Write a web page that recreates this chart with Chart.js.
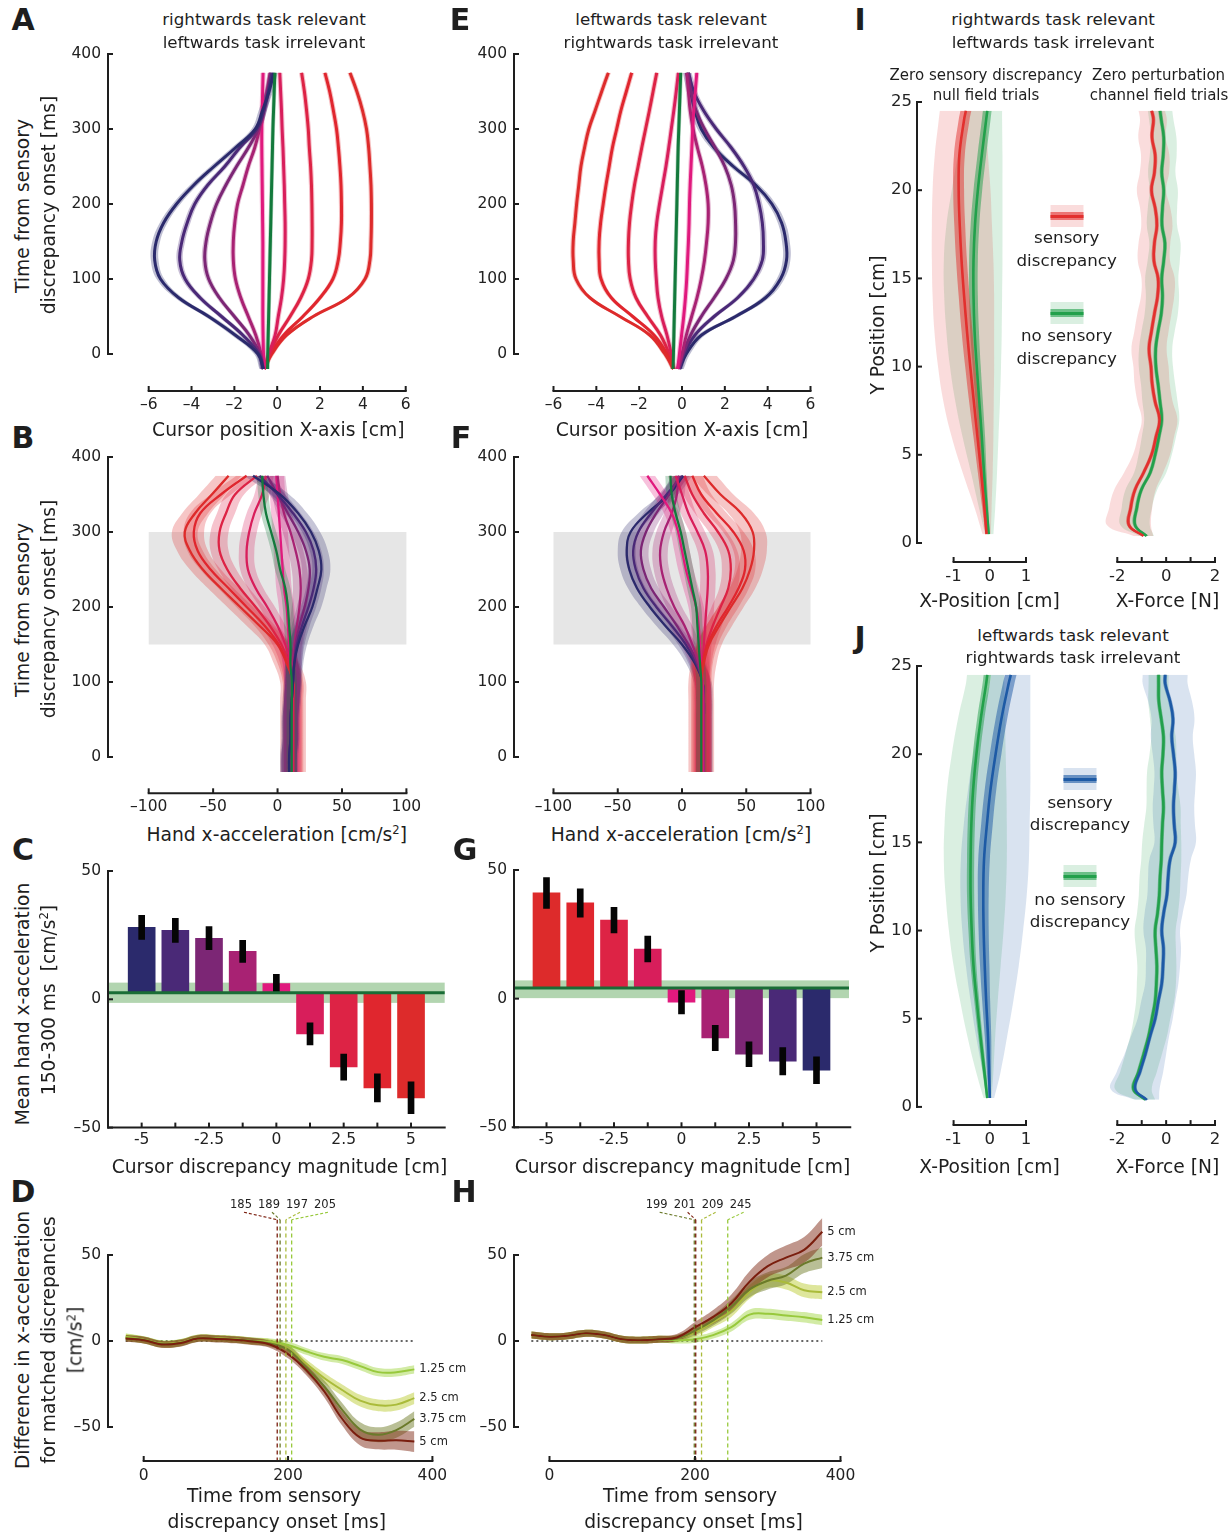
<!DOCTYPE html>
<html>
<head>
<meta charset="utf-8">
<title>Sensory discrepancy figure</title>
<script src="https://cdn.jsdelivr.net/npm/chart.js@4.4.1/dist/chart.umd.min.js"></script>
<style>
html,body{margin:0;padding:0;background:#fff;}
body{position:relative;width:1229px;height:1532px;overflow:hidden;font-family:"DejaVu Sans",sans-serif;color:#1e1e1e;}
canvas{position:absolute;}
.t{position:absolute;white-space:nowrap;line-height:1;transform:translate(-50%,-50%);}
.r{transform:translate(-50%,-50%) rotate(-90deg);}
.L{font-weight:bold;}
.sw{position:absolute;transform:translate(-50%,-50%);width:33px;}
.sup{font-size:0.62em;vertical-align:0.55em;}
</style>
</head>
<body>
<script>
// ---------------- DATA ----------------
const T = [-20,0,25,50,75,100,125,150,175,200,225,250,275,300,325,350,375];   // ms
const disc = [-5,-3.75,-2.5,-1.25,0,1.25,2.5,3.75,5];                          // cm
const discColors = ['#2b2a6c','#4a2977','#7c2675','#a82273','#e0197d','#d81e5b','#dd2345','#e0262e','#dd2b2b'];
const nullGreen = '#137a3c';

// Panel A: cursor x-position (cm), per discrepancy
const posA_m500 = [-0.65,-0.9,-1.95,-3.2,-4.6,-5.45,-5.72,-5.65,-5.3,-4.7,-3.9,-2.95,-1.95,-1.02,-0.68,-0.38,-0.16];
const posA_m375 = [-0.65,-0.85,-1.6,-2.6,-3.6,-4.3,-4.55,-4.45,-4.2,-3.85,-3.25,-2.45,-1.75,-0.95,-0.62,-0.42,-0.24];
const posA_m250 = [-0.65,-0.8,-1.3,-2.0,-2.7,-3.2,-3.38,-3.32,-3.12,-2.83,-2.4,-1.9,-1.35,-0.88,-0.62,-0.45,-0.3];
const posA_m125 = [-0.65,-0.75,-1.0,-1.35,-1.7,-1.95,-2.05,-2.05,-1.98,-1.85,-1.6,-1.35,-1.05,-0.82,-0.62,-0.47,-0.33];
const posA_0    = [-0.62,-0.64,-0.66,-0.67,-0.67,-0.67,-0.67,-0.67,-0.68,-0.69,-0.7,-0.71,-0.72,-0.72,-0.7,-0.68,-0.66];
const posA_p125 = [-0.6,-0.4,-0.1,0.05,0.2,0.3,0.35,0.37,0.37,0.35,0.33,0.3,0.27,0.23,0.2,0.16,0.12];
const posA_p250 = [-0.6,-0.35,0.05,0.6,1.1,1.45,1.6,1.63,1.63,1.62,1.6,1.56,1.5,1.45,1.37,1.27,1.14];
const posA_p375 = [-0.6,-0.3,0.3,1.2,2.0,2.6,2.85,2.95,3.0,3.0,2.98,2.93,2.86,2.77,2.62,2.45,2.23];
const posA_p500 = [-0.6,-0.25,0.44,1.68,3.3,4.1,4.33,4.38,4.4,4.4,4.38,4.33,4.27,4.17,3.98,3.72,3.4];
const posA_null = [-0.45,-0.44,-0.42,-0.4,-0.38,-0.36,-0.34,-0.32,-0.3,-0.28,-0.26,-0.24,-0.22,-0.2,-0.17,-0.14,-0.11];
const semA = [0.18,0.15,0.13,0.12,0.12,0.12,0.12,0.12,0.12];

// Panel E
const posE_m500 = [-0.4,-0.8,-1.5,-2.9,-4.3,-4.95,-5.08,-5.08,-5.0,-4.92,-4.82,-4.72,-4.55,-4.35,-4.05,-3.75,-3.44];
const posE_m375 = [-0.4,-0.7,-1.3,-2.3,-3.3,-3.78,-3.87,-3.87,-3.8,-3.68,-3.55,-3.4,-3.25,-3.05,-2.85,-2.6,-2.35];
const posE_m250 = [-0.4,-0.6,-1.0,-1.6,-2.15,-2.42,-2.5,-2.5,-2.45,-2.35,-2.22,-2.05,-1.88,-1.7,-1.52,-1.35,-1.18];
const posE_m125 = [-0.4,-0.5,-0.7,-0.95,-1.12,-1.2,-1.25,-1.25,-1.18,-1.05,-0.9,-0.75,-0.62,-0.5,-0.38,-0.27,-0.17];
const posE_0    = [-0.2,-0.12,-0.02,0.08,0.16,0.22,0.26,0.3,0.33,0.35,0.38,0.42,0.46,0.5,0.55,0.62,0.69];
const posE_p125 = [-0.2,0.0,0.2,0.45,0.7,0.9,1.05,1.15,1.22,1.22,1.12,0.95,0.72,0.52,0.38,0.3,0.22];
const posE_p250 = [-0.15,0.05,0.4,0.9,1.5,2.05,2.4,2.5,2.5,2.45,2.3,2.0,1.55,1.05,0.65,0.42,0.28];
const posE_p375 = [-0.12,0.1,0.6,1.5,2.6,3.35,3.75,3.8,3.75,3.6,3.35,2.9,2.3,1.6,1.0,0.55,0.3];
const posE_p500 = [-0.1,0.2,0.9,2.5,3.9,4.6,4.88,4.85,4.65,4.2,3.45,2.4,1.5,0.9,0.6,0.4,0.22];
const posE_null = [-0.42,-0.4,-0.38,-0.36,-0.34,-0.32,-0.3,-0.28,-0.26,-0.24,-0.22,-0.2,-0.18,-0.15,-0.12,-0.09,-0.06];
const semE = [0.12,0.12,0.12,0.12,0.12,0.12,0.13,0.15,0.18];

// Panel B: hand x-acceleration (cm/s^2)
const accB_m500 = [9,9,10,10,11,12,13,16,21,27,31,34,32,26,16,2,-19];
const accB_m375 = [9,9,10,10,11,12,13,15,19,24,28,30,28,22,12,0,-14];
const accB_m250 = [9,9,10,10,11,12,13,14,17,21,24,25,22,16,8,0,-8];
const accB_m125 = [9,9,10,10,11,12,12,13,15,17,18,17,14,10,5,2,0];
const accB_0    = [11,11,11,11,11,11,10,9,8,7,5,4,3,2,1,0,-1];
const accB_p125 = [12,12,12,12,12,12,10,6,0,-8,-17,-23,-24,-22,-18,-12,-9];
const accB_p250 = [12,12,12,12,12,12,9,3,-6,-17,-29,-39,-45,-45,-40,-33,-16];
const accB_p375 = [12,12,12,12,12,12,8,1,-10,-24,-38,-52,-62,-65,-60,-44,-24];
const accB_p500 = [12,12,12,12,12,12,7,0,-14,-29,-44,-58,-68,-72,-64,-51,-38];
const accB_null = [11,11,11,11,11,11,10,10,9,8,6,2,-1,-5,-9,-11,-12];
const semB = [7,6,6,6,6,6,7,8,10];

// Panel F
const accF_m500 = [15,15,15,15,15,15,17,21,29,38,47,53,56,55,46,30,17];
const accF_m375 = [15,15,15,15,15,15,16,20,27,36,44,49,48,40,27,15,8];
const accF_m250 = [15,15,15,15,15,15,16,19,24,30,36,38,36,28,17,8,2];
const accF_m125 = [15,15,15,15,15,15,16,17,18,19,20,20,18,12,5,0,-5];
const accF_0    = [16,16,16,16,16,16,15,14,13,11,7,3,0,-3,-8,-17,-27];
const accF_p125 = [17,17,17,17,17,16,13,8,2,-6,-12,-16,-17,-14,-8,-4,-3];
const accF_p250 = [17,17,17,17,17,16,12,5,-4,-14,-24,-30,-32,-28,-20,-10,-2];
const accF_p375 = [17,17,17,17,17,16,11,3,-8,-20,-30,-36,-38,-34,-24,-12,0];
const accF_p500 = [17,17,17,17,17,16,10,0,-13,-25,-35,-41,-43,-40,-27,-10,1];
const accF_null = [15,15,15,15,15,15,14,13,12,11,8,5,2,-1,-5,-8,-9];
const semF = [10,8,7,6,6,6,6,6,7];
const accWindow = [150, 300];

// Panel C / G: mean acceleration 150-300 ms
const barsC = [28.0,26.9,23.8,18.7,6.1,-13.5,-26.4,-34.5,-38.4];
const errC  = [4.7,4.7,4.5,4.3,3.6,4.3,5.1,5.5,6.2];
const nullMeanC = 2.6, nullBandC = [-1.4, 6.5];
const barsG = [41.1,37.2,30.5,19.3,-1.4,-15.3,-21.6,-24.3,-27.8];
const errG  = [6.0,5.5,5.0,5.0,4.5,4.9,4.8,5.3,5.2];
const nullMeanG = 4.1, nullBandG = [0.2, 7.1];
const labeledDisc = [-5,-2.5,0,2.5,5];

// Panel D / H: differences for matched discrepancies
const T2 = [-25,0,25,50,75,100,125,150,175,200,225,250,275,300,325,350,375];
const matchNames = ['5 cm','3.75 cm','2.5 cm','1.25 cm'];
const diffD_500 = [1.5,0.5,-2,-1.3,1.4,1.2,0.7,-0.3,-2,-7.6,-16.8,-29.2,-45.2,-56.2,-58,-57.7,-58.5];
const diffD_375 = [1.5,0.6,-1.8,-1.2,1.6,1.3,0.8,0,-1.5,-5,-15.4,-26.3,-40,-51.5,-54.5,-51.8,-45.3];
const diffD_250 = [2,0.6,-1.8,-1,1.8,1.5,1,0,-1,-4.5,-13.1,-21.5,-28.5,-34.7,-37.4,-37,-33.2];
const diffD_125 = [2.5,0.8,-1.5,-1,1.5,1.5,1,0,-0.5,-2.3,-6,-9.2,-11.1,-14.6,-18.1,-18.2,-16.5];
const semD_500 = [2,2,2,2,2,2,2,2,2,2.5,3,3.5,4,4.5,5,5.5,6];
const semD_375 = [2,2,2,2,2,2,2,2,2,2.5,3,3.5,4,4.2,4.3,4.4,4.5];
const semD_250 = [2,2,2,2,2,2,2,2,2,2.2,2.5,3,3.2,3.4,3.4,3.4,3.4];
const semD_125 = [2,2,2,2,2,2,2,2,2,2,2,2.2,2.3,2.4,2.4,2.4,2.4];
const onsetD = [185,189,197,205];
const diffH_500 = [3.5,2.5,3,4.5,3.5,1,0.5,1,2,8,14,22,34.5,43.5,48.5,53,63.5];
const diffH_375 = [3.5,2.5,3,4.5,3.5,1,0.5,1,1.5,6,12,20,30,35,38,45,48.5];
const diffH_250 = [3.5,2.5,3,4.5,3.5,1,0.5,1,1.5,5,11,17.5,28.5,35,34,29.5,28.3];
const diffH_125 = [3.5,2.5,3,4.5,3.5,1,0.5,1,0.5,1,3.4,8,15.3,15.8,14.8,13.8,12.2];
const semH_500 = [2,2,2,2,2,2,2,2,2,3,4,5,6,6.5,7,7.5,8];
const semH_375 = [2,2,2,2,2,2,2,2,2,2.5,3,4,4.5,5,5,5.5,6];
const semH_250 = [2,2,2,2,2,2,2,2,2,2.5,3,3.5,4,4,4,4,4];
const semH_125 = [2,2,2,2,2,2,2,2,2,2,2,2.5,3,3,3,3,3];
const onsetH = [201,199,209,245];
const onsetSpan = [-70, 70.5];

// Panels I / J: position (cm) and force (N) vs Y position (cm)
const Yp = [0.5,2,4,6,8,10,12,14,16,18,20,22,24,24.5];
const iPosRed     = [-0.09,-0.15,-0.24,-0.34,-0.44,-0.54,-0.63,-0.71,-0.78,-0.83,-0.86,-0.84,-0.71,-0.66];
const iPosRedLo   = [-0.2,-0.42,-0.75,-1.05,-1.28,-1.43,-1.53,-1.58,-1.6,-1.6,-1.58,-1.52,-1.41,-1.38];
const iPosRedHi   = [0.03,0.05,0.08,0.1,0.11,0.12,0.12,0.12,0.1,0.06,0.02,-0.05,-0.1,-0.12];
const iPosRedSem  = [0.03,0.06,0.09,0.11,0.13,0.14,0.15,0.15,0.15,0.15,0.15,0.15,0.15,0.15];
const iPosGreen   = [-0.03,-0.09,-0.16,-0.22,-0.29,-0.36,-0.42,-0.45,-0.45,-0.41,-0.33,-0.22,-0.1,-0.07];
const iPosGreenLo = [-0.13,-0.3,-0.52,-0.75,-0.95,-1.1,-1.2,-1.26,-1.27,-1.2,-1.05,-0.88,-0.7,-0.67];
const iPosGreenHi = [0.1,0.15,0.2,0.24,0.28,0.31,0.33,0.34,0.35,0.35,0.35,0.35,0.34,0.34];
const iPosGreenSem= [0.03,0.05,0.07,0.09,0.1,0.11,0.12,0.12,0.12,0.12,0.12,0.12,0.12,0.12];
const jPosBlue    = [0.0,-0.02,-0.05,-0.1,-0.14,-0.17,-0.18,-0.16,-0.08,0.02,0.16,0.32,0.52,0.58];
const jPosBlueLo  = [-0.08,-0.2,-0.38,-0.53,-0.66,-0.76,-0.81,-0.8,-0.72,-0.6,-0.45,-0.25,0.0,0.03];
const jPosBlueHi  = [0.12,0.3,0.48,0.65,0.8,0.92,1.02,1.08,1.1,1.12,1.12,1.12,1.12,1.12];
const jPosBlueSem = [0.03,0.06,0.09,0.11,0.13,0.14,0.15,0.16,0.16,0.16,0.16,0.16,0.16,0.16];
const jPosGreen   = [-0.07,-0.15,-0.26,-0.36,-0.45,-0.5,-0.53,-0.53,-0.51,-0.46,-0.37,-0.25,-0.1,-0.07];
const jPosGreenLo = [-0.17,-0.38,-0.62,-0.82,-1.0,-1.13,-1.22,-1.27,-1.25,-1.18,-1.05,-0.88,-0.66,-0.63];
const jPosGreenHi = [0.05,0.1,0.15,0.22,0.3,0.38,0.44,0.47,0.47,0.46,0.44,0.42,0.4,0.39];
const jPosGreenSem= [0.03,0.05,0.06,0.07,0.08,0.09,0.1,0.1,0.1,0.1,0.1,0.1,0.1,0.1];

const Yf = [0.4,1,2,3,4,5,6,7,8,9,10,11,12,13,14,15,16,17,18,19,20,21,22,23,24,24.5];
const iForceRed   = [-0.93,-1.52,-1.45,-1.28,-0.92,-0.6,-0.42,-0.27,-0.45,-0.57,-0.62,-0.7,-0.6,-0.48,-0.35,-0.33,-0.5,-0.48,-0.38,-0.45,-0.6,-0.48,-0.45,-0.58,-0.52,-0.59];
const iForceRedSd = [0.4,0.9,0.88,0.85,0.8,0.76,0.74,0.73,0.72,0.72,0.72,0.72,0.7,0.7,0.68,0.68,0.66,0.65,0.64,0.62,0.6,0.6,0.58,0.56,0.55,0.54];
const iForceGreen = [-0.8,-1.27,-1.2,-1.02,-0.65,-0.45,-0.3,-0.18,-0.25,-0.33,-0.42,-0.43,-0.33,-0.2,-0.15,-0.18,-0.1,-0.05,-0.17,-0.15,-0.1,-0.18,-0.12,-0.1,-0.2,-0.25];
const iForceGreenSd=[0.3,0.6,0.62,0.65,0.66,0.68,0.7,0.72,0.72,0.7,0.7,0.68,0.68,0.68,0.68,0.68,0.66,0.64,0.62,0.6,0.58,0.56,0.55,0.52,0.5,0.5];
const jForceBlue  = [-0.79,-1.27,-1.07,-0.85,-0.66,-0.45,-0.32,-0.18,-0.13,-0.11,-0.18,-0.1,0.03,0.08,0.16,0.37,0.33,0.3,0.34,0.37,0.3,0.23,0.28,0.16,-0.04,-0.04];
const jForceBlueSd= [0.5,1.0,0.95,0.85,0.78,0.72,0.7,0.68,0.7,0.72,0.75,0.78,0.8,0.82,0.85,0.85,0.85,0.85,0.85,0.85,0.85,0.86,0.88,0.9,0.92,0.92];
const jForceGreen = [-0.85,-1.34,-1.13,-0.92,-0.72,-0.58,-0.45,-0.4,-0.38,-0.42,-0.45,-0.35,-0.28,-0.25,-0.2,-0.18,-0.15,-0.11,-0.15,-0.18,-0.13,-0.11,-0.2,-0.3,-0.31,-0.31];
const jForceGreenSd=[0.4,0.75,0.75,0.75,0.75,0.75,0.78,0.8,0.8,0.82,0.84,0.84,0.84,0.84,0.82,0.8,0.75,0.7,0.65,0.6,0.55,0.5,0.46,0.43,0.41,0.41];
const forceSem = 0.08;

// ---------------- HELPERS ----------------
const FONT = '"DejaVu Sans", sans-serif';
Chart.defaults.font.family = FONT;
Chart.defaults.color = '#222';
const dashFmt = v => v < 0 ? '\u2013' + (-v) : String(v);
const hyFmt = v => v < 0 ? '-' + (-v) : String(v);

function rgba(hex, a) {
  const n = parseInt(hex.slice(1), 16);
  return 'rgba(' + ((n >> 16) & 255) + ',' + ((n >> 8) & 255) + ',' + (n & 255) + ',' + a + ')';
}
function valAt(m, p) { return m[0] + (p - m[1]) * (m[2] - m[0]) / (m[3] - m[1]); }

function axesPlugin(s) {
  return {
    id: 'mataxes',
    afterDraw(chart) {
      const {ctx, chartArea: a, scales: {x, y}} = chart;
      ctx.save();
      ctx.strokeStyle = '#1e1e1e'; ctx.lineWidth = 2; ctx.setLineDash([]);
      if (s.axY) {
        const X = a.left;
        ctx.lineCap = 'square';
        ctx.beginPath(); ctx.moveTo(X, y.getPixelForValue(s.axY.from)); ctx.lineTo(X, y.getPixelForValue(s.axY.to)); ctx.stroke();
        ctx.lineCap = 'butt';
        s.axY.ticks.forEach(v => { const p = y.getPixelForValue(v); ctx.beginPath(); ctx.moveTo(X, p); ctx.lineTo(X + 5, p); ctx.stroke(); });
      }
      if (s.axX) {
        const Y = a.bottom;
        ctx.lineCap = 'square';
        ctx.beginPath(); ctx.moveTo(x.getPixelForValue(s.axX.from), Y); ctx.lineTo(x.getPixelForValue(s.axX.to), Y); ctx.stroke();
        ctx.lineCap = 'butt';
        s.axX.ticks.forEach(v => { const p = x.getPixelForValue(v); ctx.beginPath(); ctx.moveTo(p, Y); ctx.lineTo(p, Y - 5); ctx.stroke(); });
      }
      ctx.restore();
    }
  };
}

function makeChart(s) {
  const [l, t, r, b] = s.area, [ml, mt, mr, mb] = s.mar;
  const W = Math.round(r - l + ml + mr), H = Math.round(b - t + mt + mb);
  const cv = document.createElement('canvas');
  cv.width = W; cv.height = H;
  cv.style.left = (l - ml) + 'px'; cv.style.top = (t - mt) + 'px';
  cv.style.width = W + 'px'; cv.style.height = H + 'px';
  document.body.appendChild(cv);
  const padR = W - ml - (r - l), padB = H - mt - (b - t);
  const tf = {family: FONT, size: s.tickSize || 15.5};
  const mkScale = (ticks, fmt, pad, show, pos, min, max, fit) => ({
    type: 'linear', position: pos, min: min, max: max, bounds: 'data', offset: false,
    grid: {display: false, drawTicks: false}, border: {display: false},
    ticks: {display: show, padding: pad, font: tf, color: '#222', autoSkip: false, maxRotation: 0, minRotation: 0, callback: v => fmt(v)},
    afterBuildTicks: sc => { sc.ticks = ticks.map(v => ({value: v})); },
    afterFit: fit
  });
  const plugins = [axesPlugin(s), {
    id: 'extra',
    beforeDatasetsDraw: c => { if (s.before) s.before(c); },
    afterDatasetsDraw: c => { if (s.after) s.after(c); }
  }];
  return new Chart(cv, {
    type: s.type || 'line',
    data: {datasets: s.datasets},
    plugins: plugins,
    options: {
      responsive: false, animation: false, events: [], indexAxis: s.indexAxis || 'x',
      layout: {padding: {left: 0, top: mt, right: padR, bottom: 0}},
      plugins: {legend: {display: false}, tooltip: {enabled: false}, title: {display: false}},
      scales: {
        x: mkScale(s.xTicks, s.xFmt, s.xPad, true, 'bottom', valAt(s.xMap, l), valAt(s.xMap, r), sc => { sc.height = padB; }),
        y: mkScale(s.yTicks, s.yFmt || String, s.yPad || 0, s.showY !== false, 'left', valAt(s.yMap, b), valAt(s.yMap, t), sc => { sc.width = ml; })
      },
      elements: {point: {radius: 0}, line: {tension: 0.4, borderCapStyle: 'butt', borderJoinStyle: 'round'}}
    }
  });
}

// vertical trajectories (time on y): bands + mean lines
function trajSets(Tt, series, colors, sems, nullXs, nullSem, alpha, lw) {
  const bands = [], lines = [];
  const all = series.map((xs, i) => ({xs: xs, c: colors[i], s: sems[i]}));
  all.unshift({xs: nullXs, c: nullGreen, s: nullSem});
  all.forEach(o => {
    bands.push({data: Tt.map((t, k) => ({x: o.xs[k] - o.s, y: t})), order: 2, borderWidth: 0, pointRadius: 0, fill: false});
    bands.push({data: Tt.map((t, k) => ({x: o.xs[k] + o.s, y: t})), order: 2, borderWidth: 0, pointRadius: 0, fill: '-1', backgroundColor: rgba(o.c, alpha)});
    lines.push({data: Tt.map((t, k) => ({x: o.xs[k], y: t})), order: 1, borderColor: o.c, borderWidth: lw, pointRadius: 0, fill: false});
  });
  return bands.concat(lines);
}
// vertical band between two x arrays over Y
function vband(Y, lo, hi, color, order) {
  return [
    {data: Y.map((y, k) => ({x: lo[k], y: y})), order: order, borderWidth: 0, pointRadius: 0, fill: false},
    {data: Y.map((y, k) => ({x: hi[k], y: y})), order: order, borderWidth: 0, pointRadius: 0, fill: '-1', backgroundColor: color}
  ];
}
function vline(Y, xs, color, lw) {
  return {data: Y.map((y, k) => ({x: xs[k], y: y})), order: 1, borderColor: color, borderWidth: lw, pointRadius: 0, fill: false};
}
function pm(a, b, sign) { return a.map((v, k) => v + sign * (Array.isArray(b) ? b[k] : b)); }

// horizontal (time on x) difference curves
const diffLine = ['#7a1e0e', '#6b7a2b', '#aabb3a', '#98c93c'];
const diffBand = ['rgba(130,45,25,0.5)', 'rgba(115,128,45,0.5)', 'rgba(195,210,75,0.55)', 'rgba(165,215,75,0.5)'];
function diffSets(means, sems, onsets) {
  const bands = [], lines = [];
  means.forEach((m, i) => {
    bands.push({data: T2.map((t, k) => ({x: t, y: m[k] - sems[i][k]})), order: 2, borderWidth: 0, pointRadius: 0, fill: false});
    bands.push({data: T2.map((t, k) => ({x: t, y: m[k] + sems[i][k]})), order: 2, borderWidth: 0, pointRadius: 0, fill: '-1', backgroundColor: diffBand[i]});
    lines.push({data: T2.map((t, k) => ({x: t, y: m[k]})), order: 1, borderColor: diffLine[i], borderWidth: 2, pointRadius: 0, fill: false});
  });
  const extra = [{data: [{x: T2[0], y: 0}, {x: T2[T2.length - 1], y: 0}], order: 3, borderColor: '#333', borderWidth: 1.4, borderDash: [2, 3], pointRadius: 0, fill: false, tension: 0}];
  onsets.forEach((o, i) => extra.push({data: [{x: o, y: onsetSpan[0]}, {x: o, y: onsetSpan[1]}], order: 0, borderColor: diffLine[i], borderWidth: 1.3, borderDash: [4, 3], pointRadius: 0, fill: false, tension: 0}));
  return bands.concat(lines, extra);
}
function diffAfter(means, onsets) {
  return chart => {
    const {ctx, scales: {x, y}} = chart;
    ctx.save();
    ctx.font = '11.5px ' + FONT; ctx.textBaseline = 'middle';
    ctx.fillStyle = '#222'; ctx.textAlign = 'left';
    means.forEach((m, i) => ctx.fillText(matchNames[i], x.getPixelForValue(T2[T2.length - 1]) + 5, y.getPixelForValue(m[m.length - 1])));
    const items = onsets.map((t, i) => ({t: t, c: diffLine[i]})).sort((a, b) => a.t - b.t);
    const cx = x.getPixelForValue((items[1].t + items[2].t) / 2);
    const top = y.getPixelForValue(onsetSpan[1]);
    ctx.textAlign = 'center';
    items.forEach((it, i) => {
      const lx = cx + (i - 1.5) * 28, ly = top - 14.5;
      ctx.fillStyle = '#222'; ctx.fillText(String(it.t), lx, ly);
      ctx.strokeStyle = it.c; ctx.lineWidth = 1.1; ctx.setLineDash([3, 2]);
      ctx.beginPath(); ctx.moveTo(lx + 3, ly + 7); ctx.lineTo(x.getPixelForValue(it.t), top); ctx.stroke();
    });
    ctx.restore();
  };
}
function windowRect(chart) {
  const {ctx, scales: {x, y}} = chart;
  ctx.save(); ctx.fillStyle = '#e6e6e6';
  const x0 = x.getPixelForValue(-100), x1 = x.getPixelForValue(100);
  const y0 = y.getPixelForValue(accWindow[1]), y1 = y.getPixelForValue(accWindow[0]);
  ctx.fillRect(x0, y0, x1 - x0, y1 - y0); ctx.restore();
}
function nullBandDraw(band) {
  return chart => {
    const {ctx, chartArea: a, scales: {y}} = chart;
    ctx.save(); ctx.fillStyle = '#b2d5b0';
    const y0 = y.getPixelForValue(band[1]), y1 = y.getPixelForValue(band[0]);
    ctx.fillRect(a.left, y0, a.right - a.left, y1 - y0); ctx.restore();
  };
}
function nullLineDraw(mean) {
  return chart => {
    const {ctx, chartArea: a, scales: {y}} = chart;
    ctx.save(); ctx.strokeStyle = '#1a6d36'; ctx.lineWidth = 3;
    const p = y.getPixelForValue(mean);
    ctx.beginPath(); ctx.moveTo(a.left, p); ctx.lineTo(a.right, p); ctx.stroke(); ctx.restore();
  };
}
function barSets(vals, errs, colors, nullMean) {
  return [
    {type: 'bar', data: disc.map((d, i) => ({x: d, y: [nullMean, vals[i]]})), backgroundColor: colors, barThickness: 27, grouped: false, order: 2, borderWidth: 0},
    {type: 'bar', data: disc.map((d, i) => ({x: d, y: [vals[i] - errs[i], vals[i] + errs[i]]})), backgroundColor: '#050505', barThickness: 6, grouped: false, order: 1, borderWidth: 0}
  ];
}

// ---------------- CHARTS ----------------
const colorsE = discColors.slice().reverse();
const yTimeTicks = [0,100,200,300,400];

// A
makeChart({area: [108.3, 54, 406, 391], mar: [50, 20, 22, 30], xMap: [-6, 149, 6, 406], yMap: [0, 354, 400, 54],
  indexAxis: 'y', datasets: trajSets(T, [posA_m500,posA_m375,posA_m250,posA_m125,posA_0,posA_p125,posA_p250,posA_p375,posA_p500], discColors, semA, posA_null, 0.1, 0.3, 3),
  xTicks: [-6,-4,-2,0,2,4,6], xFmt: dashFmt, xPad: 4.7, yTicks: yTimeTicks, yFmt: String, yPad: 7,
  axX: {from: -6, to: 6, ticks: [-6,-4,-2,0,2,4,6]}, axY: {from: 0, to: 400, ticks: yTimeTicks}});
// E
makeChart({area: [513.5, 54, 810, 391], mar: [50, 20, 22, 30], xMap: [-6, 553, 6, 810], yMap: [0, 354, 400, 54],
  indexAxis: 'y', datasets: trajSets(T, [posE_m500,posE_m375,posE_m250,posE_m125,posE_0,posE_p125,posE_p250,posE_p375,posE_p500], colorsE, semE, posE_null, 0.1, 0.3, 3),
  xTicks: [-6,-4,-2,0,2,4,6], xFmt: dashFmt, xPad: 4.7, yTicks: yTimeTicks, yFmt: String, yPad: 7,
  axX: {from: -6, to: 6, ticks: [-6,-4,-2,0,2,4,6]}, axY: {from: 0, to: 400, ticks: yTimeTicks}});
// B
makeChart({area: [108.3, 456.7, 407, 793], mar: [50, 20, 22, 30], xMap: [-100, 149, 100, 406.7], yMap: [0, 756.7, 400, 456.7],
  indexAxis: 'y', datasets: trajSets(T, [accB_m500,accB_m375,accB_m250,accB_m125,accB_0,accB_p125,accB_p250,accB_p375,accB_p500], discColors, semB, accB_null, 4, 0.27, 2.3),
  xTicks: [-100,-50,0,50,100], xFmt: dashFmt, xPad: 4.7, yTicks: yTimeTicks, yFmt: String, yPad: 7, before: windowRect,
  axX: {from: -100, to: 100, ticks: [-100,-50,0,50,100]}, axY: {from: 0, to: 400, ticks: yTimeTicks}});
// F
makeChart({area: [513.5, 456.7, 810, 793], mar: [50, 20, 22, 30], xMap: [-100, 553, 100, 810], yMap: [0, 756.7, 400, 456.7],
  indexAxis: 'y', datasets: trajSets(T, [accF_m500,accF_m375,accF_m250,accF_m125,accF_0,accF_p125,accF_p250,accF_p375,accF_p500], colorsE, semF, accF_null, 4, 0.27, 2.3),
  xTicks: [-100,-50,0,50,100], xFmt: dashFmt, xPad: 4.7, yTicks: yTimeTicks, yFmt: String, yPad: 7, before: windowRect,
  axX: {from: -100, to: 100, ticks: [-100,-50,0,50,100]}, axY: {from: 0, to: 400, ticks: yTimeTicks}});
// C
const barFmt = v => labeledDisc.includes(v) ? hyFmt(v) : '';
makeChart({type: 'bar', area: [108.3, 870.7, 445, 1127.3], mar: [50, 20, 12, 30], xMap: [-6.25, 108.3, 6.25, 445], yMap: [50, 870.7, -50, 1127.3],
  datasets: barSets(barsC, errC, discColors, nullMeanC),
  xTicks: disc, xFmt: barFmt, xPad: 3.5, yTicks: [-50,0,50], yFmt: dashFmt, yPad: 7,
  before: nullBandDraw(nullBandC), after: nullLineDraw(nullMeanC),
  axX: {from: -6.25, to: 6.25, ticks: disc}, axY: {from: -50, to: 50, ticks: [-50,0,50]}});
// G
makeChart({type: 'bar', area: [513.5, 870, 848.5, 1127.3], mar: [50, 20, 12, 30], xMap: [-5, 546, 5, 816], yMap: [50, 870, -50, 1127.3],
  datasets: barSets(barsG, errG, colorsE, nullMeanG),
  xTicks: disc, xFmt: barFmt, xPad: 3.5, yTicks: [-50,0,50], yFmt: dashFmt, yPad: 7,
  before: nullBandDraw(nullBandG), after: nullLineDraw(nullMeanG),
  axX: {from: -6.25, to: 6.25, ticks: disc}, axY: {from: -50, to: 50, ticks: [-50,0,50]}});
// D
const meansD = [diffD_500, diffD_375, diffD_250, diffD_125];
makeChart({area: [108.3, 1195, 432.7, 1461], mar: [50, 20, 60, 30], xMap: [0, 144, 400, 432.7], yMap: [0, 1341, 50, 1255],
  datasets: diffSets(meansD, [semD_500, semD_375, semD_250, semD_125], onsetD),
  xTicks: [0,200,400], xFmt: String, xPad: 5.7, yTicks: [-50,0,50], yFmt: dashFmt, yPad: 7,
  after: diffAfter(meansD, onsetD),
  axX: {from: 0, to: 400, ticks: [0,200,400]}, axY: {from: -50, to: 50, ticks: [-50,0,50]}});
// H
const meansH = [diffH_500, diffH_375, diffH_250, diffH_125];
makeChart({area: [513.5, 1195, 840, 1461], mar: [50, 20, 55, 30], xMap: [0, 549, 400, 840], yMap: [0, 1341, 50, 1255],
  datasets: diffSets(meansH, [semH_500, semH_375, semH_250, semH_125], onsetH),
  xTicks: [0,200,400], xFmt: String, xPad: 5.7, yTicks: [-50,0,50], yFmt: dashFmt, yPad: 7,
  after: diffAfter(meansH, onsetH),
  axX: {from: 0, to: 400, ticks: [0,200,400]}, axY: {from: -50, to: 50, ticks: [-50,0,50]}});

// I / J
const RED = '#e2302e', GRN = '#22a04b', BLU = '#1d5aa5';
const yPosTicks = [0,5,10,15,20,25];
function posSets(meanA, loA, hiA, semA_, colA, meanB, loB, hiB, semB_, colB) {
  return [vline(Yp, meanA, colA, 2.6), vline(Yp, meanB, colB, 2.6)]
    .concat(vband(Yp, pm(meanA, semA_, -1), pm(meanA, semA_, 1), rgba(colA, 0.5), 2))
    .concat(vband(Yp, pm(meanB, semB_, -1), pm(meanB, semB_, 1), rgba(colB, 0.5), 2))
    .concat(vband(Yp, loA, hiA, rgba(colA, 0.17), 3))
    .concat(vband(Yp, loB, hiB, rgba(colB, 0.17), 3));
}
function forceSets(meanA, sdA, colA, meanB, sdB, colB) {
  return [vline(Yf, meanA, colA, 2.6), vline(Yf, meanB, colB, 2.6)]
    .concat(vband(Yf, pm(meanA, forceSem, -1), pm(meanA, forceSem, 1), rgba(colA, 0.5), 2))
    .concat(vband(Yf, pm(meanB, forceSem, -1), pm(meanB, forceSem, 1), rgba(colB, 0.5), 2))
    .concat(vband(Yf, pm(meanA, sdA, -1), pm(meanA, sdA, 1), rgba(colA, 0.17), 3))
    .concat(vband(Yf, pm(meanB, sdB, -1), pm(meanB, sdB, 1), rgba(colB, 0.17), 3));
}
makeChart({area: [916.7, 102, 1045, 562], mar: [50, 20, 5, 30], xMap: [-1, 953.3, 1, 1025.7], yMap: [0, 543, 25, 102], tickSize: 16.5,
  indexAxis: 'y', datasets: posSets(iPosRed, iPosRedLo, iPosRedHi, iPosRedSem, RED, iPosGreen, iPosGreenLo, iPosGreenHi, iPosGreenSem, GRN),
  xTicks: [-1,0,1], xFmt: hyFmt, xPad: 5, yTicks: yPosTicks, yFmt: String, yPad: 5,
  axX: {from: -1, to: 1, ticks: [-1,0,1]}, axY: {from: 0, to: 25, ticks: yPosTicks}});
makeChart({area: [1098, 102, 1228, 562], mar: [5, 20, 1, 30], xMap: [-2, 1117.3, 2, 1215], yMap: [0, 543, 25, 102], tickSize: 16.5,
  indexAxis: 'y', datasets: forceSets(iForceRed, iForceRedSd, RED, iForceGreen, iForceGreenSd, GRN),
  xTicks: [-2,-1,0,1,2], xFmt: v => [-2,0,2].includes(v) ? hyFmt(v) : '', xPad: 5, yTicks: yPosTicks, showY: false,
  axX: {from: -2, to: 2, ticks: [-2,-1,0,1,2]}});
makeChart({area: [916.7, 666.2, 1045, 1125.3], mar: [50, 20, 5, 30], xMap: [-1, 953.3, 1, 1025.7], yMap: [0, 1107.1, 25, 666.2], tickSize: 16.5,
  indexAxis: 'y', datasets: posSets(jPosBlue, jPosBlueLo, jPosBlueHi, jPosBlueSem, BLU, jPosGreen, jPosGreenLo, jPosGreenHi, jPosGreenSem, GRN),
  xTicks: [-1,0,1], xFmt: hyFmt, xPad: 5, yTicks: yPosTicks, yFmt: String, yPad: 5,
  axX: {from: -1, to: 1, ticks: [-1,0,1]}, axY: {from: 0, to: 25, ticks: yPosTicks}});
makeChart({area: [1098, 666.2, 1228, 1125.3], mar: [5, 20, 1, 30], xMap: [-2, 1117.3, 2, 1215], yMap: [0, 1107.1, 25, 666.2], tickSize: 16.5,
  indexAxis: 'y', datasets: forceSets(jForceBlue, jForceBlueSd, BLU, jForceGreen, jForceGreenSd, GRN),
  xTicks: [-2,-1,0,1,2], xFmt: v => [-2,0,2].includes(v) ? hyFmt(v) : '', xPad: 5, yTicks: yPosTicks, showY: false,
  axX: {from: -2, to: 2, ticks: [-2,-1,0,1,2]}});

// ---------------- TEXT ----------------
function txt(x, y, html, size, cls) {
  const d = document.createElement('div');
  d.className = 't' + (cls ? ' ' + cls : '');
  d.style.left = x + 'px'; d.style.top = y + 'px'; d.style.fontSize = size + 'px';
  d.innerHTML = html;
  document.body.appendChild(d);
}
const S2 = '<span class="sup">2</span>';
[['A',23,20],['B',23,438],['C',23,850],['D',23,1192],['E',460,20],['F',461,438],['G',465,850],['H',464,1192],['I',860,20],['J',860,638]]
  .forEach(a => txt(a[1], a[2], a[0], 30, 'L'));
txt(264, 18.5, 'rightwards task relevant', 16.7); txt(264, 41.5, 'leftwards task irrelevant', 16.7);
txt(671, 18.5, 'leftwards task relevant', 16.7); txt(671, 41.5, 'rightwards task irrelevant', 16.7);
txt(1053, 18.5, 'rightwards task relevant', 16.7); txt(1053, 41.5, 'leftwards task irrelevant', 16.7);
txt(1073, 634.5, 'leftwards task relevant', 16.7); txt(1073, 657.4, 'rightwards task irrelevant', 16.7);
txt(986, 75, 'Zero sensory discrepancy', 15); txt(986, 95.3, 'null field trials', 15);
txt(1158.5, 75, 'Zero perturbation', 15); txt(1159, 95.3, 'channel field trials', 15);

txt(278.3, 430, 'Cursor position X-axis [cm]', 18.7); txt(682, 430, 'Cursor position X-axis [cm]', 18.7);
txt(276.7, 835, 'Hand x-acceleration [cm/s' + S2 + ']', 18.7); txt(681, 835, 'Hand x-acceleration [cm/s' + S2 + ']', 18.7);
txt(279.5, 1166.5, 'Cursor discrepancy magnitude [cm]', 18.7); txt(682.5, 1166.5, 'Cursor discrepancy magnitude [cm]', 18.7);
txt(274, 1495.5, 'Time from sensory', 18.7); txt(276.7, 1521.7, 'discrepancy onset [ms]', 18.7);
txt(690, 1495.5, 'Time from sensory', 18.7); txt(693.5, 1521.7, 'discrepancy onset [ms]', 18.7);
txt(989.5, 601, 'X-Position [cm]', 18.7); txt(1167.5, 601, 'X-Force [N]', 18.7);
txt(989.5, 1167, 'X-Position [cm]', 18.7); txt(1167.5, 1167, 'X-Force [N]', 18.7);

txt(23, 205.5, 'Time from sensory', 18.7, 'r'); txt(49, 205, 'discrepancy onset [ms]', 18.7, 'r');
txt(23, 609.5, 'Time from sensory', 18.7, 'r'); txt(49, 608.5, 'discrepancy onset [ms]', 18.7, 'r');
txt(23, 1003.5, 'Mean hand x-acceleration', 18.7, 'r'); txt(49, 999.5, '150-300 ms&nbsp;&nbsp;[cm/s' + S2 + ']', 18.7, 'r');
txt(23, 1340, 'Difference in x-acceleration', 18.7, 'r'); txt(49, 1340, 'for matched discrepancies', 18.7, 'r'); txt(76, 1340, '[cm/s' + S2 + ']', 18.7, 'r');
txt(878, 325, 'Y Position [cm]', 18.7, 'r'); txt(878, 882.6, 'Y Position [cm]', 18.7, 'r');

// legend swatches (I, J)
function swatch(x, y, col) {
  const d = document.createElement('div');
  d.className = 'sw';
  d.style.left = x + 'px'; d.style.top = y + 'px'; d.style.height = '22px';
  d.style.background = rgba(col, 0.17);
  d.innerHTML = '<div style="position:absolute;left:0;right:0;top:7px;height:8px;background:' + rgba(col, 0.6) + '"></div>' +
                '<div style="position:absolute;left:0;right:0;top:9.5px;height:3px;background:' + col + '"></div>';
  document.body.appendChild(d);
}
swatch(1066.7, 216, RED); swatch(1066.7, 313, GRN);
txt(1066.7, 237, 'sensory', 16.7); txt(1066.7, 260, 'discrepancy', 16.7);
txt(1066.7, 335, 'no sensory', 16.7); txt(1066.7, 358, 'discrepancy', 16.7);
swatch(1080, 779, BLU); swatch(1080, 876.3, GRN);
txt(1080, 801.5, 'sensory', 16.7); txt(1080, 823.6, 'discrepancy', 16.7);
txt(1080, 899, 'no sensory', 16.7); txt(1080, 921, 'discrepancy', 16.7);
</script>
</body>
</html>
